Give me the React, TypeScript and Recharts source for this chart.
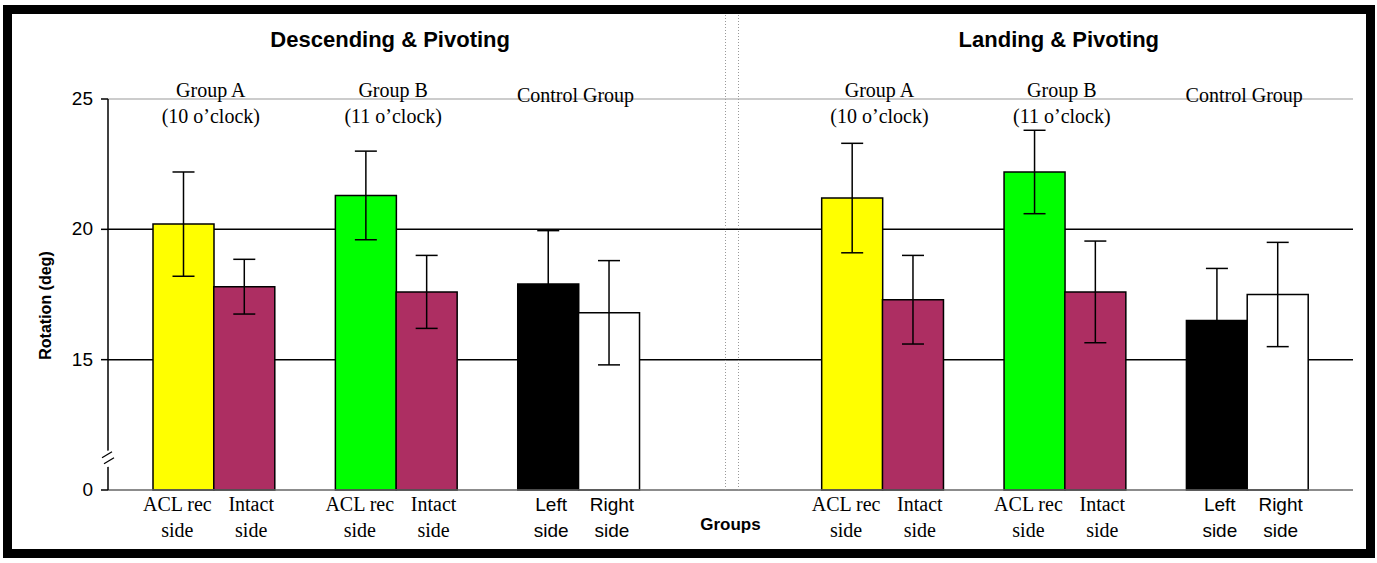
import { BarChart, Bar, XAxis, YAxis, CartesianGrid, ErrorBar, Cell, ReferenceLine } from 'recharts';

// one entry per bar slot; empty slots keep the groups apart
const slots = [
  'dA-acl', 'dA-int', 'gap1', 'dB-acl', 'dB-int', 'gap2', 'dC-left', 'dC-right',
  'gap3', 'gap4', 'gap5',
  'lA-acl', 'lA-int', 'gap6', 'lB-acl', 'lB-int', 'gap7', 'lC-left', 'lC-right',
];
const means = [20.2, 17.8, null, 21.3, 17.6, null, 17.9, 16.8, null, null, null, 21.2, 17.3, null, 22.2, 17.6, null, 16.5, 17.5];
const sds = [2.0, 1.05, null, 1.7, 1.4, null, 2.05, 2.0, null, null, null, 2.1, 1.7, null, 1.6, 1.95, null, 2.0, 2.0];
const tickLine1 = ['ACL rec', 'Intact', '', 'ACL rec', 'Intact', '', 'Left', 'Right', '', '', '', 'ACL rec', 'Intact', '', 'ACL rec', 'Intact', '', 'Left', 'Right'];
const tickLine2 = ['side', 'side', '', 'side', 'side', '', 'side', 'side', '', '', '', 'side', 'side', '', 'side', 'side', '', 'side', 'side'];
// labels sit on the first bar of each pair
const groupNames = ['Group A', '', '', 'Group B', '', '', 'Control Group', '', '', '', '', 'Group A', '', '', 'Group B', '', '', 'Control Group', ''];
const groupSubs = ['(10 o\u2019clock)', '', '', '(11 o\u2019clock)', '', '', '', '', '', '', '', '(10 o\u2019clock)', '', '', '(11 o\u2019clock)', '', '', '', ''];
const sectionTitles = ['', '', '', 'Descending & Pivoting', '', '', '', '', '', '', '', '', '', '', 'Landing & Pivoting', '', '', '', ''];
const yTicks = [10, 15, 20, 25];
const gridValues = [15, 20];
const AXIS_BREAK = 11.2;
const colors = ['#FFFF00', '#AD2E62', '#fff', '#00FF00', '#AD2E62', '#fff', '#000000', '#FFFFFF', '#fff', '#fff', '#fff', '#FFFF00', '#AD2E62', '#fff', '#00FF00', '#AD2E62', '#fff', '#000000', '#FFFFFF'];

const data = slots.map((slot, i) => ({ slot, mean: means[i], sd: sds[i] }));

const W = 1377;
const H = 563;
const PAD = 45;
const PLOT_TOP = 99;
const PLOT_BOTTOM = 490;
const PLOT_W = 1353 - 108;
const SLOT_W = (PLOT_W - 2 * PAD) / slots.length;
const SERIF = '"Liberation Serif", "Times New Roman", serif';
const SANS = '"Liberation Sans", Arial, sans-serif';

// small nudge so neighbouring labels don't run together
const labelShift = (s: string) => (s === 'ACL rec' ? -6 : s === 'Intact' ? 7 : 3);

function BottomTick({ x, y, payload, index }: any) {
  const i = index ?? payload.index;
  const sans = tickLine1[i] === 'Left' || tickLine1[i] === 'Right';
  const top = y - (PLOT_BOTTOM - PLOT_TOP);
  const gx = x + SLOT_W / 2;
  const lx = x + labelShift(tickLine1[i]);
  if (i === 9) {
    return (
      <g>
        <line x1={x - 5} x2={x - 5} y1={y} y2={y - 475} stroke="#999" strokeDasharray="1 2" />
        <line x1={x + 8} x2={x + 8} y1={y} y2={y - 475} stroke="#999" strokeDasharray="1 2" />
        <text x={x} y={y + 40} textAnchor="middle" fontFamily={SANS} fontWeight="bold" fontSize={17} fill="#000">Groups</text>
      </g>
    );
  }
  return (
    <g>
      {sectionTitles[i] && (
        <text x={gx - 6} y={top - 52} textAnchor="middle" fontFamily={SANS} fontWeight="bold" fontSize={22} fill="#000">{sectionTitles[i]}</text>
      )}
      {groupNames[i] && (
        <text x={gx - 3} y={groupSubs[i] ? top - 2 : top + 3} textAnchor="middle" fontFamily={SERIF} fontSize={20} fill="#000">{groupNames[i]}</text>
      )}
      {groupSubs[i] && (
        <text x={gx - 3} y={top + 24} textAnchor="middle" fontFamily={SERIF} fontSize={20} fill="#000">{groupSubs[i]}</text>
      )}
      {tickLine1[i] && (
        <text x={lx} y={y + 21} textAnchor="middle" fontFamily={sans ? SANS : SERIF} fontSize={sans ? 19 : 20} fill="#000">{tickLine1[i]}</text>
      )}
      {tickLine2[i] && (
        <text x={lx} y={y + 47} textAnchor="middle" fontFamily={sans ? SANS : SERIF} fontSize={sans ? 19 : 20} fill="#000">{tickLine2[i]}</text>
      )}
    </g>
  );
}

function LeftTick({ x, y, payload }: any) {
  const ax = x + 15;
  if (payload.value === AXIS_BREAK) {
    return (
      <g>
        <line x1={ax - 1} x2={ax + 1} y1={y - 8} y2={y + 8} stroke="#fff" strokeWidth={4} />
        <path d={`M${ax - 6},${y - 1} L${ax + 4},${y - 7}`} stroke="#000" strokeWidth={1.3} />
        <path d={`M${ax - 4},${y + 5} L${ax + 6},${y - 1}`} stroke="#000" strokeWidth={1.3} />
      </g>
    );
  }
  return (
    <g>
      <line x1={ax - 7} x2={ax} y1={y} y2={y} stroke="#000" strokeWidth={1.5} />
      <text x={x} y={y + 6} textAnchor="end" fontFamily={SANS} fontSize={19} fill="#000">
        {payload.value === 10 ? '0' : payload.value}
      </text>
    </g>
  );
}

export default function App() {
  return (
    <div style={{ position: 'absolute', left: 0, top: 0, width: W, height: H, background: '#fff' }}>
      <div
        style={{
          position: 'absolute', left: 3, top: 5, width: 1372, height: 553,
          border: '9px solid #000', boxSizing: 'border-box',
        }}
      />
      <div style={{ position: 'absolute', left: 0, top: 0 }}>
        <BarChart
          width={W}
          height={H}
          data={data}
          margin={{ top: PLOT_TOP, right: 24, bottom: 23, left: 48 }}
          barCategoryGap={0}
          barGap={0}
        >
          <CartesianGrid
            vertical={false}
            stroke="#000"
            strokeWidth={1.5}
            horizontalCoordinatesGenerator={({ offset }: any) =>
              gridValues.map((v) => offset.top + (offset.height * (25 - v)) / 15)
            }
          />
          <ReferenceLine yAxisId="l" y={25} stroke="#999" strokeWidth={1.2} />
          <XAxis
            dataKey="slot"
            interval={0}
            padding={{ left: PAD, right: PAD }}
            height={50}
            tickSize={0}
            tickMargin={0}
            tickLine={false}
            axisLine={{ stroke: '#666', strokeWidth: 1.5 }}
            tick={<BottomTick />}
          />
          <YAxis
            yAxisId="l"
            domain={[10, 25]}
            ticks={[...yTicks, AXIS_BREAK]}
            interval={0}
            width={60}
            tickSize={7}
            tickMargin={8}
            tickLine={false}
            axisLine={{ stroke: '#000', strokeWidth: 1.5 }}
            tick={<LeftTick />}
            label={{
              content: ({ viewBox }: any) => {
                const lx = viewBox.x + 3;
                const ly = viewBox.y + viewBox.height / 2 + 11;
                return (
                  <text x={lx} y={ly} transform={`rotate(-90, ${lx}, ${ly})`} textAnchor="middle" fontFamily={SANS} fontWeight="bold" fontSize={16} fill="#000">
                    Rotation (deg)
                  </text>
                );
              },
            }}
          />
          <YAxis
            yAxisId="r"
            orientation="right"
            domain={[10, 25]}
            width={0}
            tick={false}
            tickLine={false}
            axisLine={{ stroke: '#999', strokeWidth: 1.2 }}
          />
          <Bar yAxisId="l" dataKey="mean" stroke="#000" strokeWidth={1.5} isAnimationActive={false}>
            {data.map((d, i) => (
              <Cell key={d.slot} fill={colors[i]} />
            ))}
            <ErrorBar dataKey="sd" width={11} stroke="#000" strokeWidth={1.5} isAnimationActive={false} />
          </Bar>
        </BarChart>
      </div>
    </div>
  );
}
